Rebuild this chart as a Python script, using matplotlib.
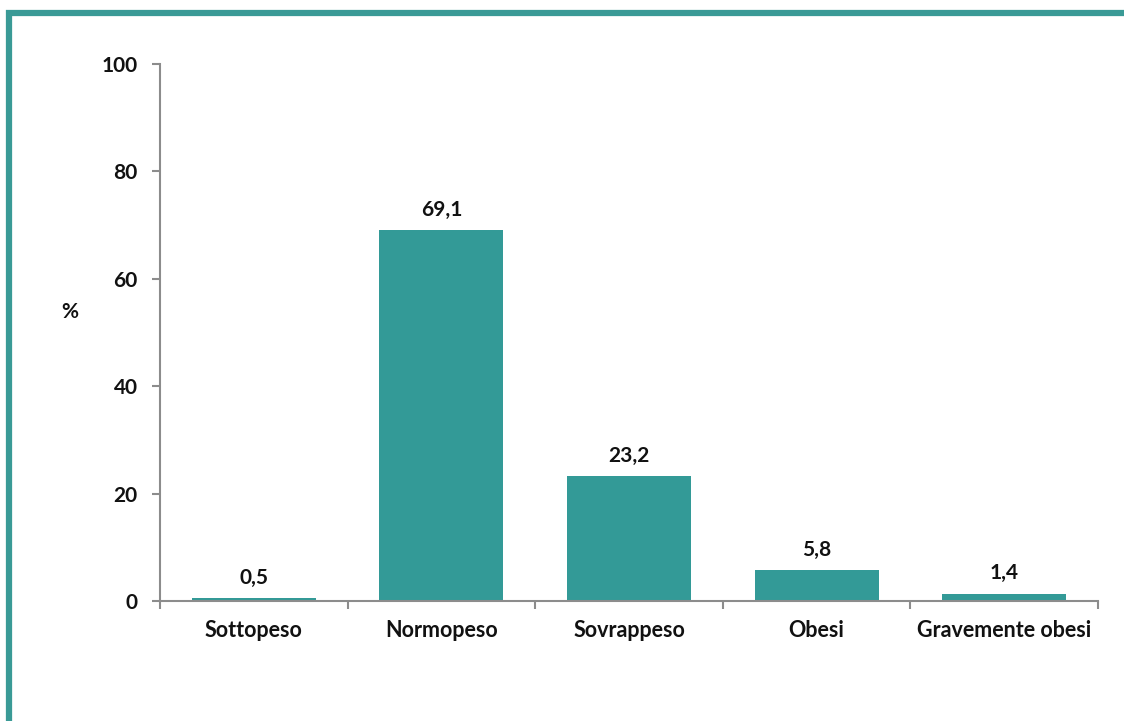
import matplotlib.pyplot as plt
from matplotlib.patches import Rectangle
import numpy as np

categorie = ['Sottopeso', 'Normopeso', 'Sovrappeso', 'Obesi', 'Gravemente obesi']
valori = [0.5, 69.1, 23.2, 5.8, 1.4]
etichette = ['0,5', '69,1', '23,2', '5,8', '1,4']
yticks = [0, 20, 40, 60, 80, 100]

teal = '#339a97'
grigio = '#8c8c8c'

plt.rcParams['font.family'] = ['Lato', 'DejaVu Sans']
plt.rcParams['font.weight'] = 'bold'

fig = plt.figure(figsize=(11.24, 7.21), dpi=100)
ax = fig.add_axes([0.1423, 0.1664, 0.9769 - 0.1423, 0.9112 - 0.1664])

x = np.arange(len(categorie))
ax.bar(x, valori, width=0.66, color=teal)
for xi, v, t in zip(x, valori, etichette):
    ax.text(xi, v + 1.9, t, ha='center', va='bottom', fontsize=15, fontweight='bold', color='#111111')

ax.set_xlim(-0.5, len(categorie) - 0.5)
ax.set_ylim(0, 100)
ax.set_yticks(yticks)
ax.set_yticklabels([str(t) for t in yticks], fontsize=15, fontweight='bold', color='#111111')

# etichette categorie senza tick, tick ai bordi
ax.set_xticks(x)
ax.set_xticklabels(categorie, fontsize=15.5, fontweight='bold', color='#111111')
ax.tick_params(axis='x', which='major', length=0, pad=14)
ax.set_xticks(np.arange(-0.5, len(categorie)), minor=True)
ax.tick_params(axis='x', which='minor', length=6, width=1.5, color=grigio, direction='out')
ax.tick_params(axis='y', length=6, width=1.5, color=grigio, direction='out', pad=10)

for s in ['top', 'right']:
    ax.spines[s].set_visible(False)
for s in ['left', 'bottom']:
    ax.spines[s].set_color(grigio)
    ax.spines[s].set_linewidth(1.5)

fig.text(70 / 1124, 1 - 312 / 721, '%', fontsize=15, fontweight='bold', ha='center', va='center', color='#111111')

# cornice
fig.patches.append(Rectangle((9 / 1124, -0.1), 1.2, 0.1 + 1 - 13 / 721, transform=fig.transFigure,
                             fill=False, edgecolor='#3a9a96', linewidth=4.5))

plt.savefig('out.png', dpi=100)
